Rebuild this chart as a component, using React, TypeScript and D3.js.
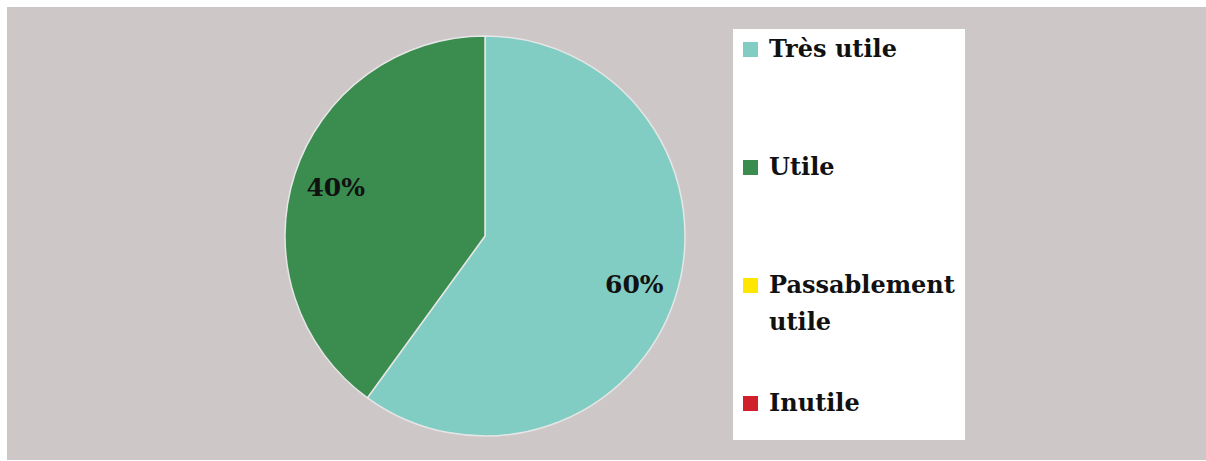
import * as d3 from "d3";

const categories = ["Très utile", "Utile", "Passablement utile", "Inutile"];
const values = [60, 40, 0, 0];
const colors = ["#82cdc3", "#3a8c4f", "#ffe600", "#d0212a"];
const legendLines = [["Très utile"], ["Utile"], ["Passablement", "utile"], ["Inutile"]];

type Datum = { name: string; value: number; color: string };

export default function App() {
  const width = 1206;
  const height = 461;
  const cx = 485;
  const cy = 236;
  const radius = 200;
  const font = "'DejaVu Serif', serif";

  const data: Datum[] = categories.map((name, i) => ({
    name,
    value: values[i],
    color: colors[i],
  }));

  const pie = d3
    .pie<Datum>()
    .value((d) => d.value)
    .sort(null);
  const arcs = pie(data);

  const arc = d3.arc<d3.PieArcDatum<Datum>>().innerRadius(0).outerRadius(radius);
  const labelArc = d3
    .arc<d3.PieArcDatum<Datum>>()
    .innerRadius(157)
    .outerRadius(157);

  const legendY = d3
    .scalePoint<string>()
    .domain(categories)
    .range([57, 411]);

  return (
    <svg
      width={width}
      height={height}
      style={{ position: "absolute", left: 0, top: 0, display: "block" }}
    >
      <rect x={0} y={0} width={width} height={height} fill="#ffffff" />
      <rect x={7} y={7} width={width - 7} height={height - 8} fill="#cdc7c8" />

      <g transform={`translate(${cx},${cy})`}>
        {arcs
          .filter((a) => a.value > 0)
          .map((a) => (
            <path
              key={a.data.name}
              d={arc(a) ?? ""}
              fill={a.data.color}
              stroke="#e6e6e6"
              strokeWidth={1.5}
            />
          ))}
        {arcs
          .filter((a) => a.value > 0)
          .map((a) => {
            const [x, y] = labelArc.centroid(a);
            return (
              <text
                key={`l-${a.data.name}`}
                x={x}
                y={y}
                textAnchor="middle"
                dominantBaseline="central"
                fontFamily={font}
                fontSize={25}
                fontWeight="bold"
                fill="#111"
              >
                {`${a.data.value}%`}
              </text>
            );
          })}
      </g>

      <rect x={733} y={29} width={232} height={411} fill="#ffffff" />
      {data.map((d, i) => {
        const base = legendY(d.name) ?? 0;
        return (
          <g key={`lg-${d.name}`}>
            <rect x={743} y={base - 15} width={15} height={15} fill={d.color} />
            <text
              x={769}
              y={base}
              fontFamily={font}
              fontSize={24}
              fontWeight="bold"
              fill="#111"
            >
              {legendLines[i].map((line, j) => (
                <tspan key={j} x={769} dy={j === 0 ? 0 : 37}>
                  {line}
                </tspan>
              ))}
            </text>
          </g>
        );
      })}
    </svg>
  );
}
